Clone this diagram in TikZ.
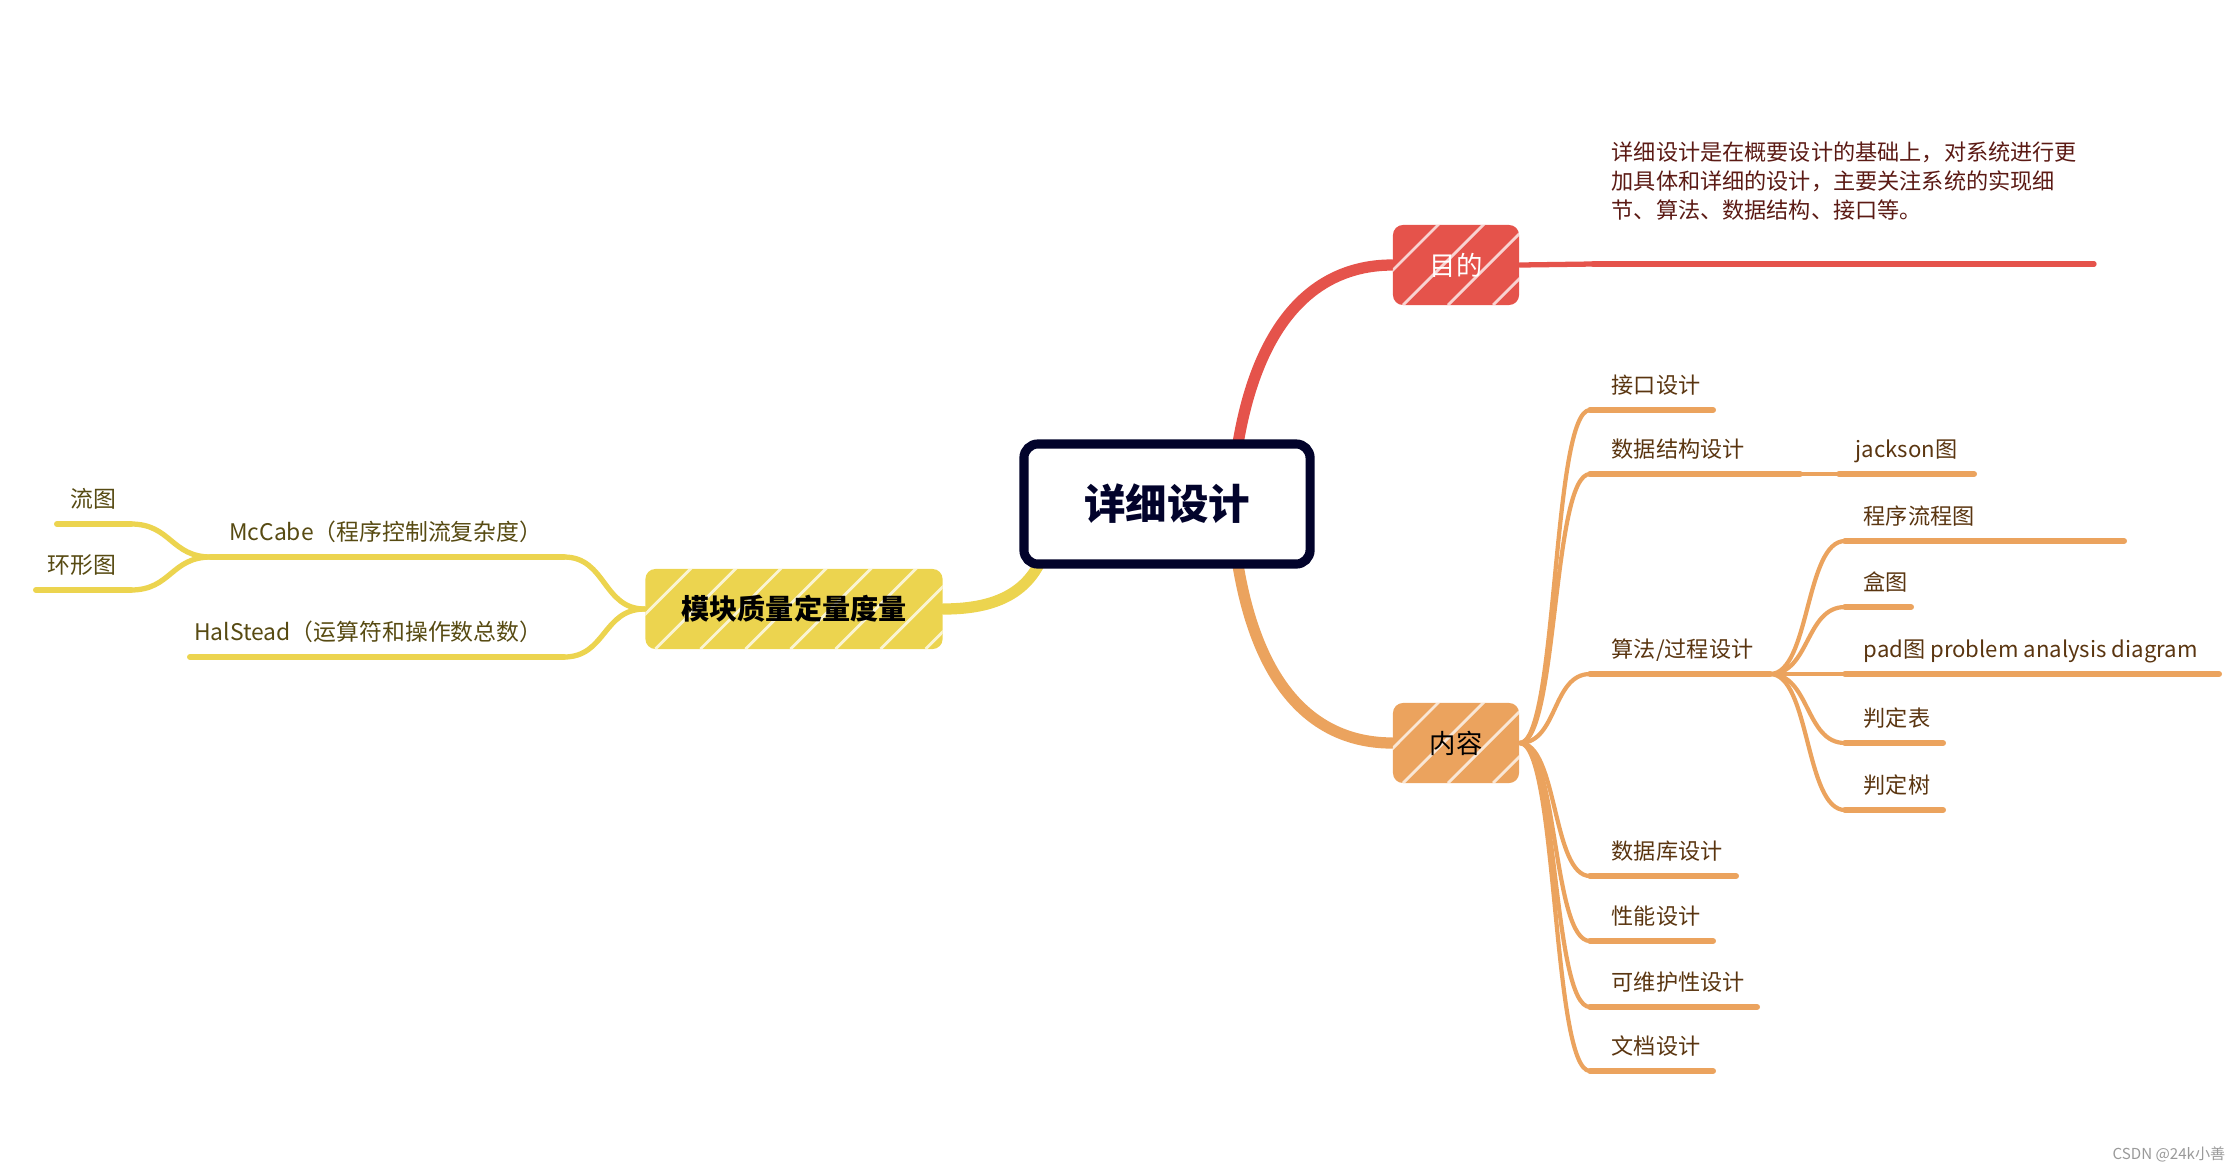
\documentclass[tikz,border=0pt]{standalone}
\usepackage{fontspec}
\setmainfont{Noto Sans CJK SC}
\usetikzlibrary{backgrounds}

\definecolor{mapnavy}{HTML}{02032B}
\definecolor{mapred}{HTML}{E5534B}
\definecolor{maporange}{HTML}{EBA35E}
\definecolor{mapyellow}{HTML}{ECD44F}
\definecolor{redtext}{HTML}{5B1A14}
\definecolor{orangetext}{HTML}{5A3510}
\definecolor{yellowtext}{HTML}{574A12}

\begin{document}
\begin{tikzpicture}[x=0.01cm, y=-0.01cm,
    centre/.style={draw=mapnavy, line width=2.6pt, rounded corners=0.14cm, fill=white,
      minimum width=2.86cm, minimum height=1.2cm, text=mapnavy,
      font=\fontsize{11.8}{14}\selectfont\bfseries},
    hatch/.style={path picture={
      \foreach \k in {-0.8,-0.35,...,3.2}
        \draw[white, line width=0.8pt, opacity=0.75]
          ([xshift=\k cm]path picture bounding box.south west) -- ++(90,-90);}},
    topic/.style={rounded corners=0.1cm, inner sep=0pt, minimum height=0.8cm, hatch},
    mainline/.style={line width=3.2pt, line cap=round},
    subline/.style={line width=1.2pt, line cap=round},
    underline/.style={line width=1.7pt, line cap=round},
    righttext/.style={anchor=base west, inner sep=0pt, text=orangetext,
      font=\fontsize{6.3}{8}\selectfont},
    lefttext/.style={anchor=base east, inner sep=0pt, text=yellowtext,
      font=\fontsize{6.5}{8}\selectfont}]

  \useasboundingbox (0,0) rectangle (2240,1172);

  %% ===== CENTRE AND MAIN TOPICS =====
  \node[centre] (ctr) at (1167,504) {详细设计};
  \node[topic, fill=mapred, text=white, minimum width=1.26cm,
        font=\fontsize{7.5}{9}\selectfont] (mudi) at (1456,265) {目的};
  \node[topic, fill=maporange, text=black, minimum width=1.26cm,
        font=\fontsize{7.5}{9}\selectfont] (neirong) at (1456,743) {内容};
  \node[topic, fill=mapyellow, text=black, minimum width=2.97cm,
        font=\fontsize{8}{10}\selectfont\bfseries] (mokuai) at (794,609) {模块质量定量度量};

  % Main branches, behind the centre box
  \begin{scope}[on background layer]
    \draw[mainline, mapred] ([xshift=0.64cm]ctr.center)
      .. controls +(12,-178) and +(-80,0) .. (mudi.west);
    \draw[mainline, maporange] ([xshift=0.64cm]ctr.center)
      .. controls +(12,180) and +(-80,0) .. (neirong.west);
    \draw[mainline, mapyellow] ([xshift=-1.17cm, yshift=-0.26cm]ctr.center)
      .. controls +(-10,60) and +(57,0) .. (mokuai.east);
  \end{scope}

  %% ===== 目的: description =====
  \coordinate (desc-l) at (1593,264);
  \coordinate (desc-r) at (2094,264);
  \node[anchor=north west, inner sep=0pt, align=left, text=redtext,
        font=\fontsize{6.3}{8.25}\selectfont] (desc) at (1611,141)
    {详细设计是在概要设计的基础上，对系统进行更\\
     加具体和详细的设计，主要关注系统的实现细\\
     节、算法、数据结构、接口等。};
  \draw[subline, mapred, line width=1.5pt] (mudi.east) -- (desc-l);
  \draw[underline, mapred, line width=1.5pt] (desc-l) -- (desc-r);

  %% ===== 内容: leaves =====
  % underline end points
  \coordinate (jkou-l) at (1590,410);  \coordinate (jkou-r) at (1713,410);
  \coordinate (sjjg-l) at (1590,474);  \coordinate (sjjg-r) at (1800,474);
  \coordinate (jack-l) at (1839,474);  \coordinate (jack-r) at (1974,474);
  \coordinate (sfgc-l) at (1590,674);  \coordinate (sfgc-r) at (1770,674);
  \coordinate (lct-l)  at (1845,541);  \coordinate (lct-r)  at (2124,541);
  \coordinate (ht-l)   at (1845,607);  \coordinate (ht-r)   at (1911,607);
  \coordinate (pad-l)  at (1845,674);  \coordinate (pad-r)  at (2219,674);
  \coordinate (pdb-l)  at (1845,743);  \coordinate (pdb-r)  at (1943,743);
  \coordinate (pds-l)  at (1845,810);  \coordinate (pds-r)  at (1943,810);
  \coordinate (sjk-l)  at (1590,876);  \coordinate (sjk-r)  at (1736,876);
  \coordinate (xn-l)   at (1590,941);  \coordinate (xn-r)   at (1713,941);
  \coordinate (kwh-l)  at (1590,1007); \coordinate (kwh-r)  at (1757,1007);
  \coordinate (wd-l)   at (1590,1071); \coordinate (wd-r)   at (1713,1071);

  % labels
  \node[righttext] (jkou) at (1611,393)  {接口设计};
  \node[righttext] (sjjg) at (1611,457)  {数据结构设计};
  \node[righttext] (jack) at (1855,457)  {jackson图};
  \node[righttext] (sfgc) at (1611,657)  {算法/过程设计};
  \node[righttext] (lct)  at (1863,524)  {程序流程图};
  \node[righttext] (ht)   at (1863,590)  {盒图};
  \node[righttext] (pad)  at (1863,657)  {pad图 problem analysis diagram};
  \node[righttext] (pdb)  at (1863,726)  {判定表};
  \node[righttext] (pds)  at (1863,793)  {判定树};
  \node[righttext] (sjk)  at (1611,859)  {数据库设计};
  \node[righttext] (xn)   at (1611,924)  {性能设计};
  \node[righttext] (kwh)  at (1611,990)  {可维护性设计};
  \node[righttext] (wd)   at (1611,1054) {文档设计};

  % underlines
  \foreach \n in {jkou,sjjg,jack,sfgc,lct,ht,pad,pdb,pds,sjk,xn,kwh,wd}
    \draw[underline, maporange] (\n-l) -- (\n-r);

  % branches from 内容
  \foreach \n in {jkou,sjjg,sfgc,sjk,xn,kwh,wd}
    \draw[subline, maporange] (neirong.east) .. controls +(38,0) and +(-38,0) .. (\n-l);
  \draw[subline, maporange] (sjjg-r) -- (jack-l);
  % branches from 算法/过程设计
  \foreach \n in {lct,ht,pad,pdb,pds}
    \draw[subline, maporange] (sfgc-r) .. controls +(40,0) and +(-40,0) .. (\n-l);

  %% ===== 模块质量定量度量: leaves =====
  \coordinate (mcc-l)  at (211,557); \coordinate (mcc-r)  at (564,557);
  \coordinate (hal-l)  at (190,657); \coordinate (hal-r)  at (564,657);
  \coordinate (liu-l)  at (57,524);  \coordinate (liu-r)  at (131,524);
  \coordinate (huan-l) at (36,590);  \coordinate (huan-r) at (131,590);

  \node[lefttext] (mcc)  at (543,540) {McCabe（程序控制流复杂度）};
  \node[lefttext] (hal)  at (543,640) {HalStead（运算符和操作数总数）};
  \node[lefttext] (liu)  at (117,507) {流图};
  \node[lefttext] (huan) at (117,573) {环形图};

  \foreach \n in {mcc,hal,liu,huan}
    \draw[underline, mapyellow] (\n-l) -- (\n-r);

  \foreach \n in {mcc,hal}
    \draw[subline, mapyellow, line width=1.5pt] (mokuai.west)
      .. controls +(-42,0) and +(42,0) .. (\n-r);
  \foreach \n in {liu,huan}
    \draw[subline, mapyellow, line width=1.5pt] (mcc-l)
      .. controls +(-40,0) and +(40,0) .. (\n-r);

  % watermark
  \node[anchor=east, inner sep=0pt, text=gray!80, font=\fontsize{4.3}{5}\selectfont]
    (wmark) at (2226,1154) {CSDN @24k小善};

\end{tikzpicture}
\end{document}
